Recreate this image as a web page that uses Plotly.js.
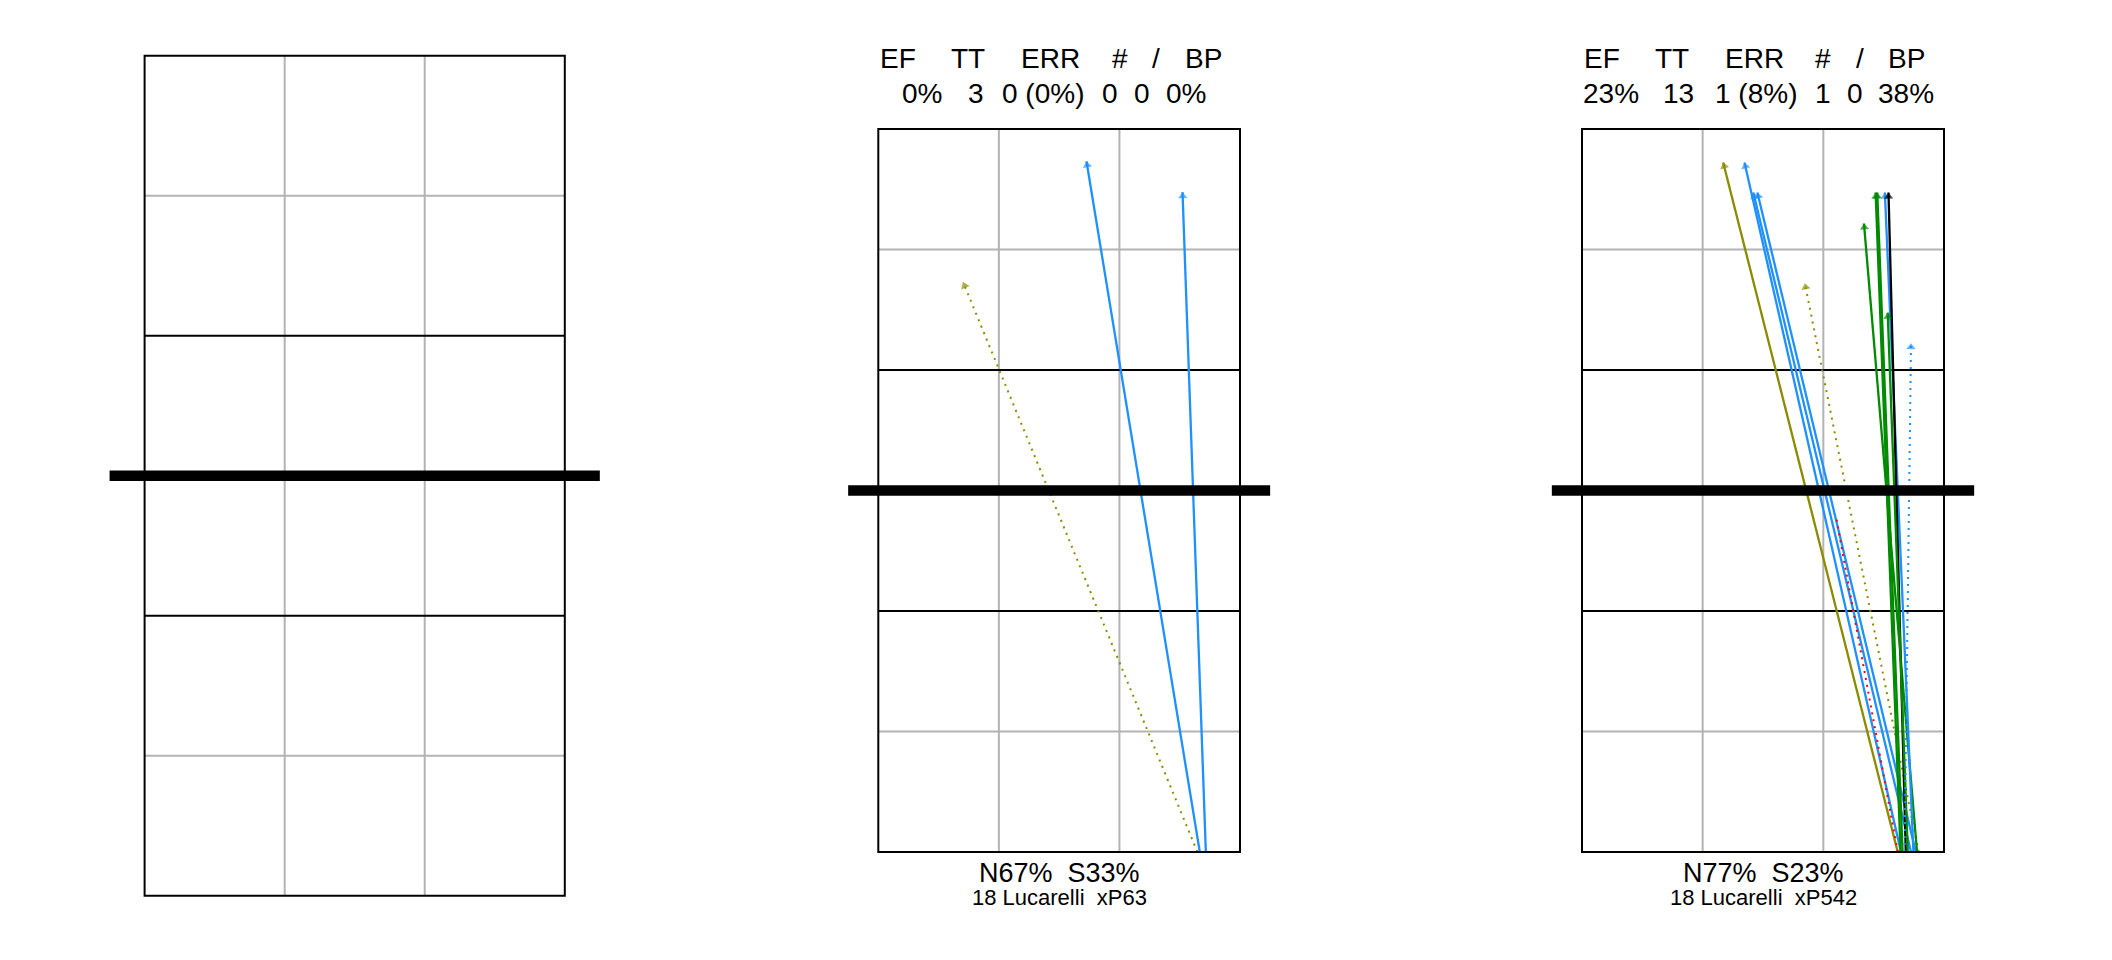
<!DOCTYPE html>
<html>
<head>
<meta charset="utf-8">
<script src="https://cdn.plot.ly/plotly-3.0.1.min.js"></script>
<style>html,body{margin:0;padding:0;background:#fff;}#chart{width:2112px;height:960px;}</style>
</head>
<body>
<div id="chart"></div>
<script>
// ---------------- DATA ----------------
const headerLabels = ['EF', 'TT', 'ERR', '#', '/', 'BP'];

// Panel 2 : 18 Lucarelli xP63
const p2Stats = ['0%', '3', '0 (0%)', '0', '0', '0%'];
const p2Zones = 'N67%\u00A0\u00A0S33%';
const p2Player = '18 Lucarelli\u00A0\u00A0xP63';
const p2StartX = [8.00, 8.15, 7.94];
const p2StartY = [0, 0, 0];
const p2EndX   = [5.18, 7.57, 2.11];
const p2EndY   = [17.20, 16.43, 14.19];
const p2Type   = ['blue', 'blue', 'olive'];
const p2Dash   = ['solid', 'solid', 'dot'];

// Panel 3 : 18 Lucarelli xP542
const p3Stats = ['23%', '13', '1 (8%)', '1', '0', '38%'];
const p3Zones = 'N77%\u00A0\u00A0S23%';
const p3Player = '18 Lucarelli\u00A0\u00A0xP542';
const p3StartX = [7.85, 7.93, 8.30, 8.18, 8.37, 7.85, 8.33, 7.97, 7.92, 8.24, 8.05, 8.10, 8.02];
const p3StartY = [0, 0, 0, 0, 0, 0, 0, 0, 0, 0, 0, 0, 0];
const p3EndX   = [3.51, 4.04, 4.36, 4.26, 5.54, 6.31, 7.01, 7.34, 7.30, 7.53, 7.62, 7.60, 8.18];
const p3EndY   = [17.17, 17.17, 16.42, 16.42, 14.16, 8.37, 15.65, 16.42, 16.42, 16.42, 16.42, 13.43, 12.67];
const p3Type   = ['olive', 'blue', 'blue', 'blue', 'olive', 'red', 'green', 'green', 'green', 'blue', 'black', 'green', 'blue'];
const p3Dash   = ['solid', 'solid', 'solid', 'solid', 'dot', 'dot', 'solid', 'solid', 'solid', 'solid', 'solid', 'solid', 'dot'];

// ---------------- STYLE / LAYOUT ----------------
const W = 2112, H = 960;
const colorMap = {blue: '#1E90FF', olive: '#8B8B00', green: '#008B00', black: '#000000', red: '#FF0000'};
const FONT = 'Liberation Sans, Arial, Helvetica, sans-serif';
const panels = [
  {xa: 'x',  ya: 'y',  left: 144.6, right: 564.8, top: 55.7,  bottom: 895.7},
  {xa: 'x2', ya: 'y2', left: 878.3, right: 1240.0, top: 129.1, bottom: 852.0},
  {xa: 'x3', ya: 'y3', left: 1582.0, right: 1944.0, top: 129.1, bottom: 852.0}
];
const XPAD = 0.8, YPAD = 0.3;

const layout = {
  width: W, height: H,
  margin: {l: 0, r: 0, t: 0, b: 0, pad: 0},
  paper_bgcolor: '#ffffff', plot_bgcolor: 'rgba(0,0,0,0)',
  showlegend: false,
  shapes: [], annotations: []
};

panels.forEach((p, i) => {
  const kx = (p.right - p.left) / 9, ky = (p.bottom - p.top) / 18;
  const sfx = i === 0 ? '' : String(i + 1);
  layout['xaxis' + sfx] = {
    domain: [(p.left - XPAD * kx) / W, (p.right + XPAD * kx) / W],
    range: [-XPAD, 9 + XPAD], visible: false, fixedrange: true,
    anchor: 'y' + sfx
  };
  layout['yaxis' + sfx] = {
    domain: [1 - (p.bottom + YPAD * ky) / H, 1 - (p.top - YPAD * ky) / H],
    range: [-YPAD, 18 + YPAD], visible: false, fixedrange: true,
    anchor: 'x' + sfx
  };
  const line = (x0, y0, x1, y1, color, width, layer) => layout.shapes.push({
    type: 'line', xref: p.xa, yref: p.ya, x0, y0, x1, y1, layer,
    line: {color, width}
  });
  // grid
  [3, 6].forEach(v => line(v, 0, v, 18, '#B3B3B3', 2, 'below'));
  [3, 15].forEach(v => line(0, v, 9, v, '#B3B3B3', 2, 'below'));
  [6, 12].forEach(v => line(0, v, 9, v, '#000000', 2, 'below'));
  // border
  layout.shapes.push({type: 'rect', xref: p.xa, yref: p.ya, x0: 0, y0: 0, x1: 9, y1: 18,
    layer: 'above', line: {color: '#000000', width: 2}, fillcolor: 'rgba(0,0,0,0)'});
  // net
  line(-0.75, 9, 9.75, 9, '#000000', 10.5, 'above');
});

// header + footer texts
const hdr1Pos = [19.7, 89.7, 172.2, 241.2, 277.7, 324.7];
const statPos = {1: [43.7, 97.7, 164.7, 231.7, 263.7, 307.7], 2: [29, 96.3, 174.2, 240.5, 272.5, 323.8]};
const stats = {1: p2Stats, 2: p3Stats};
const zones = {1: p2Zones, 2: p3Zones};
const players = {1: p2Player, 2: p3Player};
function ann(xpx, ypx, text, size) {
  layout.annotations.push({
    xref: 'paper', yref: 'paper', x: xpx / W, y: 1 - ypx / H,
    xanchor: 'center', yanchor: 'middle', showarrow: false, text,
    font: {family: FONT, size, color: '#000000'}
  });
}
[1, 2].forEach(i => {
  const p = panels[i];
  headerLabels.forEach((t, j) => ann(p.left + hdr1Pos[j], 58.3, t, 28));
  stats[i].forEach((t, j) => ann(p.left + statPos[i][j], 93.3, t, 28));
  const cx = (p.left + p.right) / 2;
  ann(cx, 873, zones[i], 27);
  ann(cx + 0.5, 897, players[i], 22);
});

// ---------------- TRACES ----------------
const traces = [];
const HEAD = 8;
function addServes(xa, ya, sx, sy, ex, ey, types, dashes) {
  for (let k = 0; k < sx.length; k++) {
    const col = colorMap[types[k]];
    const dotted = dashes[k] === 'dot';
    const hasHead = types[k] !== 'red';
    traces.push({
      type: 'scatter', xaxis: xa, yaxis: ya,
      x: [sx[k], ex[k]], y: [sy[k], ey[k]],
      mode: hasHead ? 'lines+markers' : 'lines',
      line: {color: col, width: dotted ? 2 : 2.3, dash: dotted ? '2px,5px' : 'solid', backoff: 0},
      marker: {symbol: 'triangle-up', size: [0, HEAD], angleref: 'previous', standoff: HEAD / 2,
               color: col, line: {width: 0}},
      hoverinfo: 'skip', showlegend: false, cliponaxis: false
    });
  }
}
addServes('x2', 'y2', p2StartX, p2StartY, p2EndX, p2EndY, p2Type, p2Dash);
addServes('x3', 'y3', p3StartX, p3StartY, p3EndX, p3EndY, p3Type, p3Dash);
// empty trace to keep panel 1 axes active
traces.push({type: 'scatter', xaxis: 'x', yaxis: 'y', x: [], y: [], mode: 'markers', showlegend: false, hoverinfo: 'skip'});

Plotly.newPlot('chart', traces, layout, {staticPlot: true, displayModeBar: false});
</script>
</body>
</html>
